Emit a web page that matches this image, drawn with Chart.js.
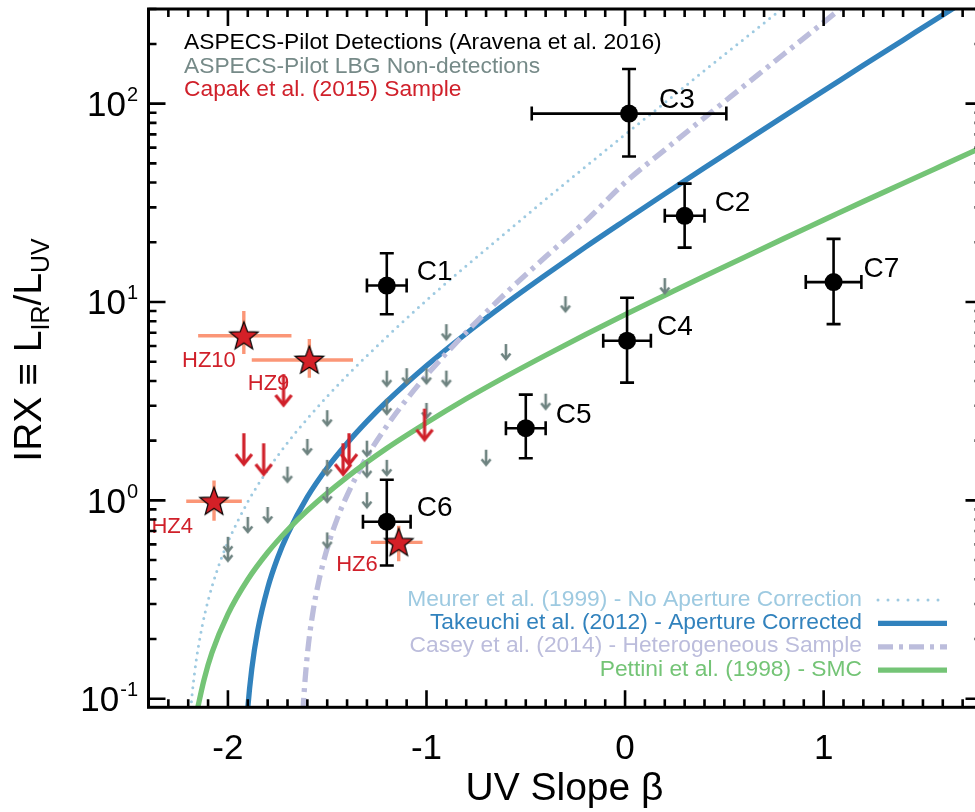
<!DOCTYPE html>
<html>
<head>
<meta charset="utf-8">
<script src="https://cdn.jsdelivr.net/npm/chart.js@4.4.2/dist/chart.umd.min.js"></script>
<style>
  html, body { margin: 0; padding: 0; background: #fff; overflow: hidden; }
  #wrap { position: absolute; left: 0; top: 0; width: 1000px; height: 812px; }
</style>
</head>
<body>
<div id="wrap"><canvas id="chart" width="1000" height="812"></canvas></div>
<script>
// ================================================================
//   IRX vs UV slope beta  (ASPECS-Pilot)
// ================================================================
const FONT = '"Liberation Sans", Arial, Helvetica, sans-serif';

// ---------- AXES ----------
const xTickValues  = [-2, -1, 0, 1];
const xTickLabels  = ["-2", "-1", "0", "1"];
const yTickValues  = [0.1, 1, 10, 100];
const yTickExps    = ["-1", "0", "1", "2"];

// ---------- ASPECS-Pilot detections ----------
const detNames   = ["C1", "C2", "C3", "C4", "C5", "C6", "C7"];
const detBeta    = [-1.20, 0.30, 0.02, 0.01, -0.50, -1.20, 1.05];
const detBetaLo  = [-1.30, 0.20, -0.47, -0.11, -0.60, -1.32, 0.91];
const detBetaHi  = [-1.10, 0.40, 0.51, 0.13, -0.40, -1.08, 1.19];
const detIRX     = [12.1, 27.2, 89.1, 6.38, 2.31, 0.78, 12.6];
const detIRXLo   = [8.67, 18.8, 54.1, 3.92, 1.63, 0.469, 7.73];
const detIRXHi   = [17.6, 39.5, 149.6, 10.5, 3.41, 1.27, 20.8];

// ---------- ASPECS-Pilot LBG non-detections (upper limits) ----------
const lbgBeta = [0.20, -0.30, -0.90, -0.60, -1.20, -1.10, -1.00, -0.90, -1.20, -1.00, -0.40, -1.50, -1.60,
                 -1.30, -0.70, -1.20, -1.70, -1.50, -1.30, -1.50, -1.30, -1.80, -1.90, -2.00, -2.00, -1.50];
const lbgIRX  = [13.2, 10.7, 7.73, 6.14, 4.51, 4.64, 4.64, 4.51, 3.25, 3.10, 3.45, 2.85, 2.04,
                 2.00, 1.80, 1.60, 1.48, 1.60, 1.57, 1.17, 1.10, 0.926, 0.825, 0.655, 0.591, 0.689];

// ---------- Capak et al. (2015) ----------
const capNames  = ["HZ10", "HZ9", "HZ4", "HZ6"];
const capBeta   = [-1.92, -1.59, -2.07, -1.14];
const capBetaLo = [-2.15, -1.88, -2.21, -1.28];
const capBetaHi = [-1.68, -1.37, -1.93, -1.02];
const capIRX    = [6.76, 5.10, 0.99, 0.614];
const capIRXLo  = [5.47, 4.15, 0.79, 0.493];
const capIRXHi  = [9.00, 6.50, 1.26, 0.744];
const capLabelOffset = [[-8, 25], [-20, 24], [-21, 26], [-21, 23]];
const capLimBeta = [-1.72, -1.92, -1.82, -1.42, -1.39, -1.01];
const capLimIRX  = [4.33, 2.18, 1.94, 1.94, 2.18, 2.90];

// ---------- relations ----------
const meurerBeta = [-2.19, -2.18, -2.16, -2.13, -2.10, -2.05, -2.00, -1.90, -1.80, -1.70, -1.60, -1.50, -1.40,
                    -1.20, -1.00, -0.80, -0.60, -0.40, -0.20, 0.00, 0.20, 0.40, 0.60, 0.70, 0.80];
const meurerIRX  = [0.082, 0.106, 0.155, 0.231, 0.312, 0.457, 0.616, 0.982, 1.42, 1.95, 2.58, 3.34, 4.26,
                    6.67, 10.2, 15.2, 22.4, 32.9, 48.0, 69.8, 101, 147, 212, 255, 307];

const takBeta = [-1.91, -1.90, -1.88, -1.85, -1.80, -1.75, -1.70, -1.60, -1.50, -1.40, -1.30, -1.20, -1.00,
                 -0.80, -0.60, -0.40, -0.20, 0.00, 0.20, 0.40, 0.60, 0.80, 1.00, 1.20, 1.40, 1.60, 1.70];
const takIRX  = [0.065, 0.090, 0.141, 0.221, 0.361, 0.512, 0.674, 1.04, 1.46, 1.94, 2.50, 3.15, 4.77,
                 6.94, 9.84, 13.7, 18.9, 25.8, 35.1, 47.5, 64.1, 86.4, 116, 156, 209, 280, 324];

const caseyBeta = [-1.63, -1.62, -1.60, -1.57, -1.54, -1.50, -1.45, -1.40, -1.30, -1.20, -1.10, -1.00,
                   -0.80, -0.60, -0.40, -0.20, 0.00, 0.20, 0.40, 0.60, 0.80, 1.00, 1.10];
const caseyIRX  = [0.059, 0.094, 0.167, 0.281, 0.401, 0.573, 0.807, 1.06, 1.66, 2.37, 3.23, 4.27,
                   7.04, 11.1, 16.9, 25.5, 40.0, 58.5, 85.0, 123, 178, 257, 310];

const pettBeta = [-2.16, -2.15, -2.12, -2.08, -2.00, -1.90, -1.80, -1.70, -1.60, -1.40, -1.20, -1.00, -0.80,
                  -0.60, -0.40, -0.20, 0.00, 0.20, 0.40, 0.60, 0.80, 1.00, 1.20, 1.40, 1.60, 1.80];
const pettIRX  = [0.082, 0.092, 0.125, 0.171, 0.267, 0.399, 0.546, 0.709, 0.889, 1.31, 1.83, 2.46, 3.25,
                  4.21, 5.39, 6.84, 8.63, 10.8, 13.5, 16.8, 20.9, 25.9, 32.1, 39.6, 48.9, 60.4];

// ---------- legends ----------
const topLegend       = ["ASPECS-Pilot Detections (Aravena et al. 2016)", "ASPECS-Pilot LBG Non-detections", "Capak et al. (2015) Sample"];
const topLegendColors = ["#000000", "#768a88", "#d0202a"];
const relLegend       = ["Meurer et al. (1999) - No Aperture Correction", "Takeuchi et al. (2012) - Aperture Corrected",
                         "Casey et al. (2014) - Heterogeneous Sample", "Pettini et al. (1998) - SMC"];

const C_MEURER = "#9ecae1", C_TAK = "#3182bd", C_CASEY = "#bcbddc", C_PETT = "#74c476";
const C_RED = "#d0202a", C_GRAY = "#6e8380", C_SALMON = "#fb9677";

const pts = (xs, ys) => xs.map((x, i) => ({ x, y: ys[i] }));

// ================================================================
//   SYMBOLS (used as point styles)
// ================================================================
function makeArrow(len, head, headLen, lw, color) {
  const w = Math.ceil(head * 2 + lw + 4), h = Math.ceil(len * 2 + 6);
  const c = document.createElement("canvas");
  c.width = w; c.height = h;
  const g = c.getContext("2d");
  const cx = w / 2, cy = h / 2;
  g.strokeStyle = color; g.lineWidth = lw; g.lineJoin = "miter";
  g.beginPath(); g.moveTo(cx, cy); g.lineTo(cx, cy + len - 0.5); g.stroke();
  g.beginPath();
  g.moveTo(cx - head, cy + len - headLen);
  g.lineTo(cx, cy + len);
  g.lineTo(cx + head, cy + len - headLen);
  g.stroke();
  return c;
}

function makeStar(R, r, fill) {
  const s = Math.ceil(2 * R + 4);
  const c = document.createElement("canvas");
  c.width = s; c.height = s;
  const g = c.getContext("2d");
  const cx = s / 2, cy = s / 2 + 1;
  g.beginPath();
  for (let i = 0; i < 10; i++) {
    const a = -Math.PI / 2 + i * Math.PI / 5;
    const rad = i % 2 ? r : R;
    const px = cx + rad * Math.cos(a), py = cy + rad * Math.sin(a);
    i ? g.lineTo(px, py) : g.moveTo(px, py);
  }
  g.closePath();
  g.fillStyle = fill; g.fill();
  g.strokeStyle = "#000"; g.lineWidth = 1.2; g.stroke();
  return c;
}

const grayArrow = makeArrow(15, 4.5, 5.5, 2.6, C_GRAY);
const redArrow  = makeArrow(31, 8, 10, 3.2, C_RED);
const redStar   = makeStar(15, 6.3, "#d42027");

// ================================================================
//   PLUGINS
// ================================================================
const errorBars = {
  id: "errorBars",
  beforeDatasetDraw(chart, args) {
    const ds = chart.data.datasets[args.index];
    const e = ds.err;
    if (!e) return;
    const { ctx, chartArea: a } = chart;
    const { x, y } = chart.scales;
    ctx.save();
    ctx.beginPath(); ctx.rect(a.left, a.top, a.right - a.left, a.bottom - a.top); ctx.clip();
    ctx.strokeStyle = e.color; ctx.lineWidth = e.width; ctx.lineCap = "butt";
    ds.data.forEach((p, i) => {
      const px = x.getPixelForValue(p.x), py = y.getPixelForValue(p.y);
      const x0 = x.getPixelForValue(e.xLo[i]), x1 = x.getPixelForValue(e.xHi[i]);
      const y0 = y.getPixelForValue(e.yLo[i]), y1 = y.getPixelForValue(e.yHi[i]);
      ctx.beginPath();
      ctx.moveTo(x0, py); ctx.lineTo(x1, py);
      ctx.moveTo(px, y0); ctx.lineTo(px, y1);
      if (e.cap) {
        ctx.moveTo(x0, py - e.cap); ctx.lineTo(x0, py + e.cap);
        ctx.moveTo(x1, py - e.cap); ctx.lineTo(x1, py + e.cap);
        ctx.moveTo(px - e.cap, y0); ctx.lineTo(px + e.cap, y0);
        ctx.moveTo(px - e.cap, y1); ctx.lineTo(px + e.cap, y1);
      }
      ctx.stroke();
    });
    ctx.restore();
  }
};

const pointLabels = {
  id: "pointLabels",
  afterDatasetsDraw(chart) {
    const { ctx } = chart;
    const { x, y } = chart.scales;
    ctx.save();
    ctx.textBaseline = "middle";
    // detections: right of the point
    ctx.font = `28px ${FONT}`; ctx.fillStyle = "#000"; ctx.textAlign = "left";
    detNames.forEach((n, i) => {
      ctx.fillText(n, x.getPixelForValue(detBeta[i]) + 30, y.getPixelForValue(detIRX[i]) - 13);
    });
    // Capak: below-left
    ctx.font = `22px ${FONT}`; ctx.fillStyle = C_RED; ctx.textAlign = "right";
    capNames.forEach((n, i) => {
      const o = capLabelOffset[i];
      ctx.fillText(n, x.getPixelForValue(capBeta[i]) + o[0], y.getPixelForValue(capIRX[i]) + o[1]);
    });
    ctx.restore();
  }
};

const frame = {
  id: "frame",
  afterDraw(chart) {
    const { ctx, chartArea: a } = chart;
    const { x, y } = chart.scales;
    ctx.save();
    ctx.strokeStyle = "#000";
    ctx.lineWidth = 3;
    ctx.strokeRect(a.left, a.top, a.right - a.left, a.bottom - a.top);

    // ticks, inward on all four sides
    ctx.lineWidth = 2.6;
    ctx.beginPath();
    for (let v = -24; v <= 18; v++) {
      const px = x.getPixelForValue(v / 10);
      const len = v % 10 === 0 ? 17 : 8;
      ctx.moveTo(px, a.bottom); ctx.lineTo(px, a.bottom - len);
      ctx.moveTo(px, a.top);    ctx.lineTo(px, a.top + len);
    }
    for (let d = -2; d <= 2; d++) {
      for (let m = 1; m <= 9; m++) {
        const v = m * Math.pow(10, d);
        if (v < y.min || v > y.max) continue;
        const py = y.getPixelForValue(v);
        const len = m === 1 ? 17 : 8;
        ctx.moveTo(a.left, py);  ctx.lineTo(a.left + len, py);
        ctx.moveTo(a.right, py); ctx.lineTo(a.right - len, py);
      }
    }
    ctx.stroke();

    // tick labels
    ctx.fillStyle = "#000";
    ctx.font = `35px ${FONT}`;
    ctx.textAlign = "center"; ctx.textBaseline = "alphabetic";
    xTickValues.forEach((v, i) => ctx.fillText(xTickLabels[i], x.getPixelForValue(v), 759));

    yTickValues.forEach((v, i) => {
      const py = y.getPixelForValue(v);
      ctx.textAlign = "left";
      ctx.font = `20px ${FONT}`;
      const ew = ctx.measureText(yTickExps[i]).width;
      ctx.font = `35px ${FONT}`;
      const bw = ctx.measureText("10").width;
      const xr = 138;
      ctx.fillText("10", xr - ew - 1 - bw, py + 12.5);
      ctx.font = `20px ${FONT}`;
      ctx.fillText(yTickExps[i], xr - ew, py - 2.5);
    });

    // x title
    ctx.font = `39px ${FONT}`;
    ctx.textAlign = "center";
    ctx.fillText("UV Slope \u03b2", (a.left + a.right) / 2 - 1, 800);

    // y title (rotated, with subscripts)
    const parts = [
      { t: "IRX \u2261 L", f: 39, dy: 0 },
      { t: "IR", f: 25, dy: 8 },
      { t: "/L", f: 39, dy: 0 },
      { t: "UV", f: 25, dy: 8 }
    ];
    let total = 0;
    parts.forEach(p => { ctx.font = `${p.f}px ${FONT}`; p.w = ctx.measureText(p.t).width; total += p.w; });
    ctx.save();
    ctx.translate(41, 350);
    ctx.rotate(-Math.PI / 2);
    ctx.textAlign = "left";
    let cx = -total / 2;
    parts.forEach(p => { ctx.font = `${p.f}px ${FONT}`; ctx.fillText(p.t, cx, p.dy); cx += p.w; });
    ctx.restore();

    // top-left legend
    ctx.font = `22.8px ${FONT}`;
    ctx.textAlign = "left";
    topLegend.forEach((t, i) => {
      ctx.fillStyle = topLegendColors[i];
      ctx.fillText(t, 184, 49 + i * 23.7);
    });

    // bottom-right legend of relations
    const relColors = [C_MEURER, C_TAK, C_CASEY, C_PETT];
    const relDash   = [[0, 10], [], [15, 6, 4, 6], []];
    const relWidth  = [3, 5.3, 5.3, 5.3];
    ctx.textAlign = "right";
    relLegend.forEach((t, i) => {
      const yy = 597.5 + i * 23.4;
      ctx.fillStyle = relColors[i];
      ctx.fillText(t, 862, yy + 8);
      ctx.strokeStyle = relColors[i];
      ctx.lineWidth = relWidth[i];
      ctx.lineCap = i === 0 ? "round" : "butt";
      ctx.setLineDash(relDash[i]);
      ctx.beginPath(); ctx.moveTo(878, yy + 2.5); ctx.lineTo(947, yy + 2.5); ctx.stroke();
    });
    ctx.setLineDash([]);
    ctx.restore();
  }
};

// ================================================================
//   CHART
// ================================================================
const lineStyle = { showLine: true, pointRadius: 0, cubicInterpolationMode: "monotone", fill: false };

new Chart(document.getElementById("chart"), {
  type: "scatter",
  data: {
    datasets: [
      {
        label: "Detections", order: 1,
        data: pts(detBeta, detIRX),
        pointStyle: "circle", pointRadius: 9, pointBackgroundColor: "#000", pointBorderWidth: 0,
        err: { xLo: detBetaLo, xHi: detBetaHi, yLo: detIRXLo, yHi: detIRXHi, color: "#000", width: 2.6, cap: 7 }
      },
      {
        label: "Capak", order: 2,
        data: pts(capBeta, capIRX),
        pointStyle: redStar, pointRadius: 5,
        err: { xLo: capBetaLo, xHi: capBetaHi, yLo: capIRXLo, yHi: capIRXHi, color: C_SALMON, width: 3.4, cap: 0 }
      },
      { label: "Capak limits", order: 3, data: pts(capLimBeta, capLimIRX), pointStyle: redArrow, pointRadius: 5 },
      { label: "LBG", order: 4, data: pts(lbgBeta, lbgIRX), pointStyle: grayArrow, pointRadius: 5 },
      { label: "Pettini", order: 5, data: pts(pettBeta, pettIRX), borderColor: C_PETT, borderWidth: 5.3, ...lineStyle },
      { label: "Casey", order: 6, data: pts(caseyBeta, caseyIRX), borderColor: C_CASEY, borderWidth: 5.3,
        borderDash: [15, 6, 4, 6], ...lineStyle },
      { label: "Takeuchi", order: 7, data: pts(takBeta, takIRX), borderColor: C_TAK, borderWidth: 5.3, ...lineStyle },
      { label: "Meurer", order: 8, data: pts(meurerBeta, meurerIRX), borderColor: C_MEURER, borderWidth: 3,
        borderDash: [0, 7], borderCapStyle: "round", ...lineStyle }
    ]
  },
  options: {
    responsive: false,
    animation: false,
    events: [],
    layout: { padding: { left: 0, top: 4.7, right: 17.5, bottom: 0 } },
    plugins: { legend: { display: false }, tooltip: { enabled: false } },
    scales: {
      x: {
        type: "linear", min: -2.4, max: 1.8,
        grid: { display: false }, border: { display: false },
        ticks: { display: false },
        afterFit(s) { s.height = 104.7; }
      },
      y: {
        type: "logarithmic", min: 0.0905, max: 300,
        grid: { display: false }, border: { display: false },
        ticks: { display: false },
        afterFit(s) { s.width = 148.5; }
      }
    }
  },
  plugins: [errorBars, pointLabels, frame]
});
</script>
</body>
</html>
